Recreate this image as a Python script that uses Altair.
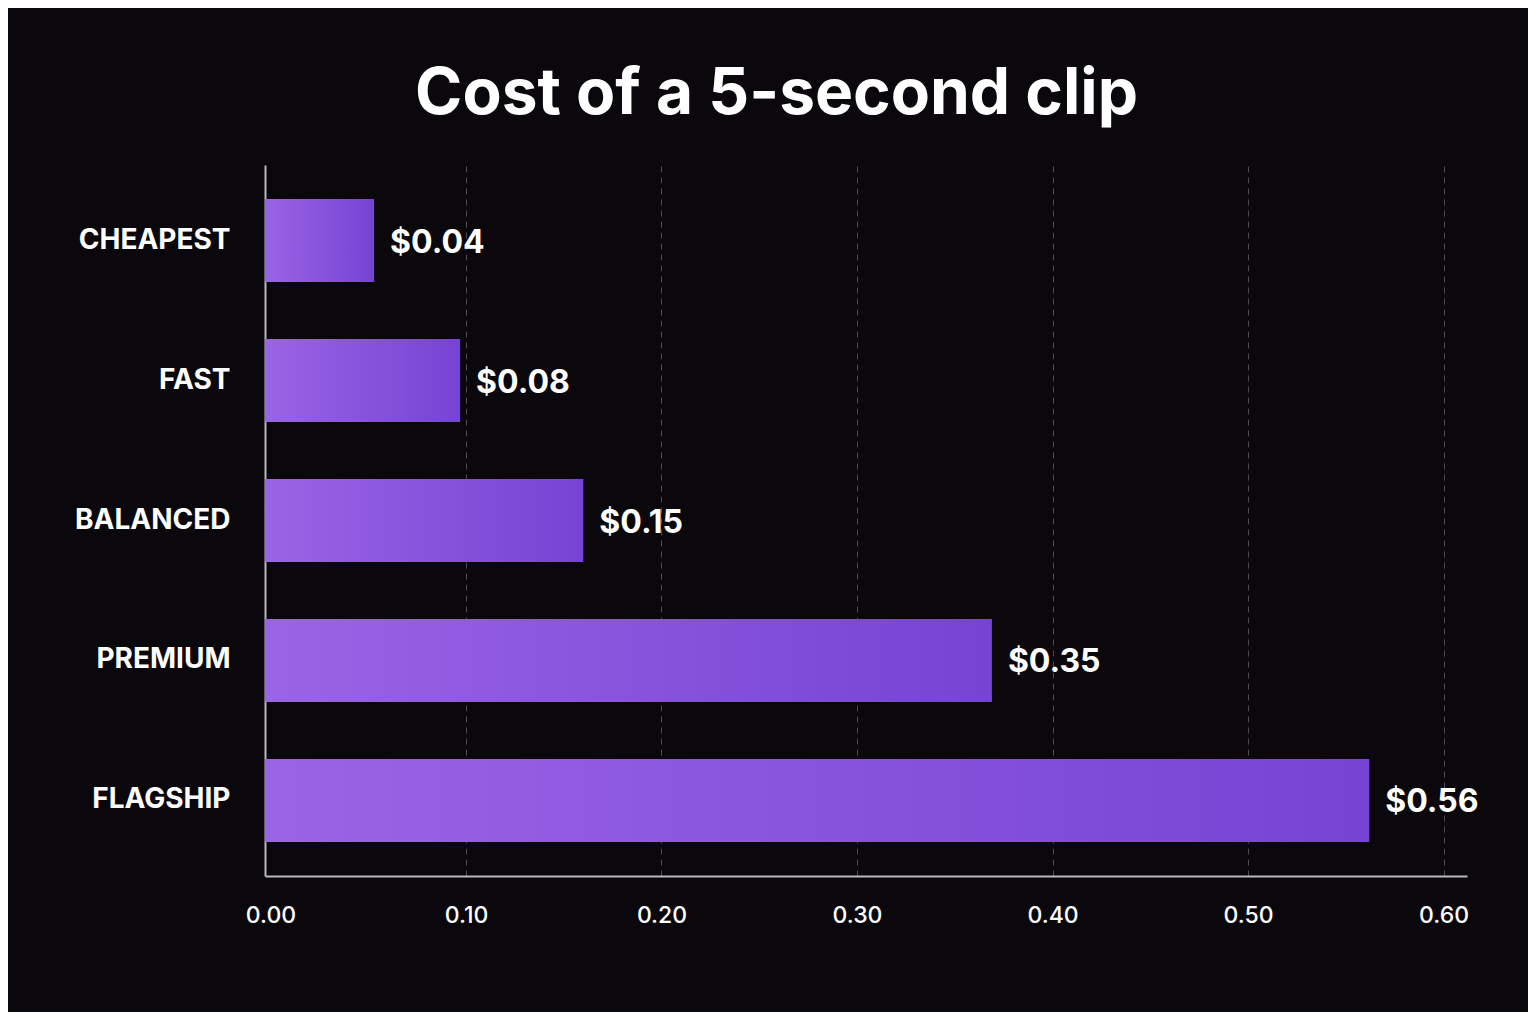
import altair as alt
import pandas as pd

# values (bar ends) and the printed labels
tiers = ["CHEAPEST", "FAST", "BALANCED", "PREMIUM", "FLAGSHIP"]
bar_cost = [0.053, 0.097, 0.160, 0.369, 0.562]
price_labels = ["$0.04", "$0.08", "$0.15", "$0.35", "$0.56"]
x_ticks = [0.0, 0.1, 0.2, 0.3, 0.4, 0.5, 0.6]
x_min, x_max = -0.0028, 0.612

df = pd.DataFrame({"tier": tiers, "cost": bar_cost, "label": price_labels})

FONT = "Inter"
BG = "#0a080d"

x_enc = alt.X("cost:Q",
    scale=alt.Scale(domain=[x_min, x_max], nice=False, zero=False),
    axis=alt.Axis(values=x_ticks, format=".2f", title=None,
        grid=True, gridColor="#4a4a50", gridDash=[6, 5], gridWidth=1,
        gridOpacity={"condition": {"test": "datum.value === 0", "value": 0}, "value": 1},
        domainColor="#b8b8bc", domainWidth=2, ticks=False,
        labelColor="white", labelFont=FONT, labelFontSize=23, labelFontWeight=500,
        labelPadding=28, labelFlush=False))
y_enc = alt.Y("tier:N", sort=tiers,
    scale=alt.Scale(paddingInner=0.407, paddingOuter=0.243),
    axis=alt.Axis(title=None, ticks=False, grid=False,
        domainColor="#b8b8bc", domainWidth=2,
        labelColor="white", labelFont=FONT, labelFontSize=28, labelFontWeight="bold",
        labelPadding=35))

bars = alt.Chart(df).mark_bar(
    color=alt.Gradient(gradient="linear", x1=0, y1=0.5, x2=1, y2=0.5,
        stops=[alt.GradientStop(color="#9a64e5", offset=0),
               alt.GradientStop(color="#7644d4", offset=1)])
).encode(x=x_enc, x2=alt.datum(x_min), y=y_enc)

text = alt.Chart(df).mark_text(align="left", baseline="middle", dx=16, dy=2,
    color="white", font=FONT, fontSize=32, fontWeight="bold"
).encode(x="cost:Q", y=alt.Y("tier:N", sort=tiers), text="label:N")

chart = (bars + text).properties(
    width=1202, height=711,
    background=BG,
    autosize=alt.AutoSizeParams(type="none"),
    padding={"left": 257, "top": 157, "right": 61, "bottom": 136},
    title=alt.Title("Cost of a 5-second clip", font=FONT, fontSize=64,
        fontWeight="bold", color="white", anchor="middle", frame="bounds", offset=38)
).configure_view(stroke=None)

chart.save("out.html", embed_options={"renderer": "svg", "actions": False})
